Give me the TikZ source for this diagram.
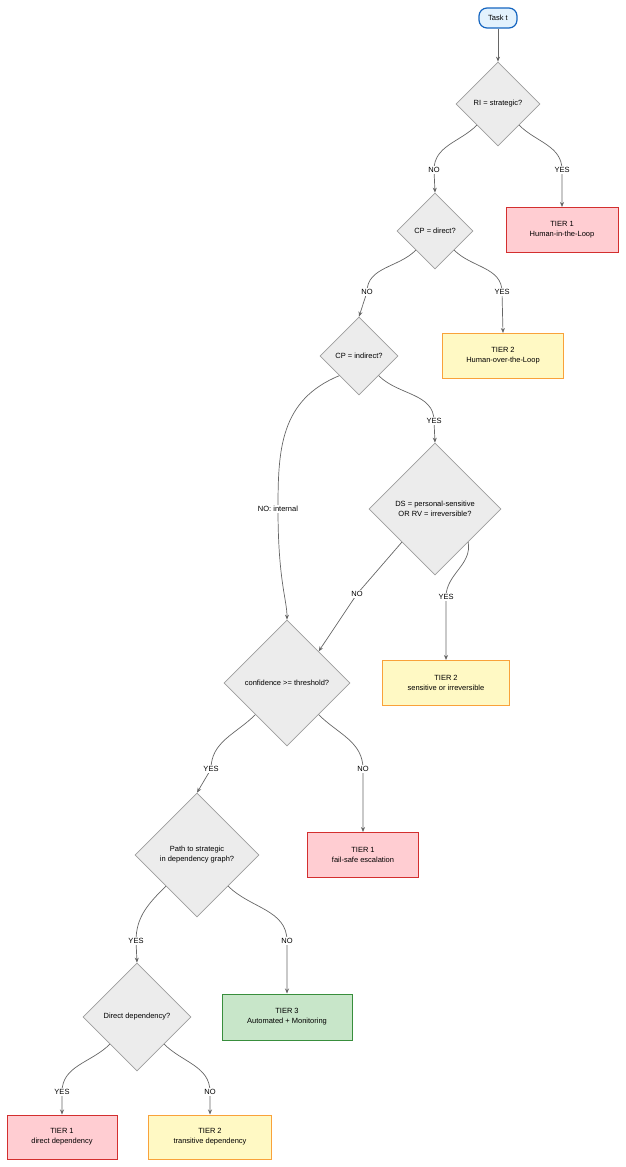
\documentclass[tikz,border=0pt]{standalone}
\usepackage{fontspec}
\setmainfont{Liberation Sans}
\usetikzlibrary{shapes.geometric,arrows.meta}
\definecolor{dg}{HTML}{ECECEC}\definecolor{dgs}{HTML}{9E9E9E}
\definecolor{rf}{HTML}{FFCDD2}\definecolor{rs}{HTML}{D32F2F}
\definecolor{yf}{HTML}{FFF9C4}\definecolor{ys}{HTML}{F9A23A}
\definecolor{gf}{HTML}{C8E6C9}\definecolor{gs}{HTML}{388E3C}
\definecolor{bf}{HTML}{E3F2FD}\definecolor{bs}{HTML}{1565C0}
\definecolor{ln}{HTML}{666666}
\begin{document}
\begin{tikzpicture}[x=1pt,y=-1pt,font=\fontsize{7.5}{10}\selectfont,
 dec/.style={diamond,draw=dgs,fill=dg,inner sep=0pt,align=center,line width=0.7pt},
 tbox/.style={rectangle,draw,line width=1pt,align=center,minimum height=45pt},
 red/.style={tbox,fill=rf,draw=rs},
 yel/.style={tbox,fill=yf,draw=ys},
 grn/.style={tbox,fill=gf,draw=gs},
 arr/.style={draw=ln,line width=0.7pt,-{Stealth[length=5pt,width=4pt]}},
 lab/.style={fill=white,inner sep=1pt}]
\useasboundingbox (0,0) rectangle (625,1167);
\node[rounded corners=8pt,draw=bs,fill=bf,line width=1.2pt,minimum width=38pt,minimum height=20pt] (task) at (498,18) {Task t};
\node[dec,minimum width=84pt,minimum height=84pt] (d1) at (498,104) {RI = strategic?};
\node[red,minimum width=112pt] (t1a) at (562,230) {TIER 1\\Human-in-the-Loop};
\node[dec,minimum width=76pt,minimum height=76pt] (d2) at (435,231) {CP = direct?};
\node[yel,minimum width=121pt] (t2a) at (503,356) {TIER 2\\Human-over-the-Loop};
\node[dec,minimum width=78pt,minimum height=78pt] (d3) at (359,356) {CP = indirect?};
\node[dec,minimum width=132pt,minimum height=132pt] (d4) at (435,509) {DS = personal-sensitive\\OR RV = irreversible?};
\node[yel,minimum width=127pt] (t2b) at (446,683) {TIER 2\\sensitive or irreversible};
\node[dec,minimum width=126pt,minimum height=126pt] (d5) at (287,683) {confidence >= threshold?};
\node[red,minimum width=111pt] (t1b) at (363,855) {TIER 1\\fail-safe escalation};
\node[dec,minimum width=124pt,minimum height=124pt] (d6) at (197,855) {Path to strategic\\in dependency graph?};
\node[grn,minimum width=130pt,minimum height=46pt] (t3) at (287,1017) {TIER 3\\Automated + Monitoring};
\node[dec,minimum width=108pt,minimum height=108pt] (d7) at (137,1017) {Direct dependency?};
\node[red,minimum width=110pt,minimum height=44pt] (t1c) at (62,1137) {TIER 1\\direct dependency};
\node[yel,minimum width=123pt,minimum height=44pt] (t2c) at (210,1137) {TIER 2\\transitive dependency};
\draw[arr] (task) -- (d1);
% labels
\node[lab] (l1) at (434,170) {NO};
\node[lab] (l2) at (562,170) {YES};
\node[lab] (l3) at (367,292) {NO};
\node[lab] (l4) at (502,292) {YES};
\node[lab] (l5) at (278,509) {NO: internal};
\node[lab] (l6) at (434,421) {YES};
\node[lab] (l7) at (357,594) {NO};
\node[lab] (l8) at (446,597) {YES};
\node[lab] (l9) at (211,769) {YES};
\node[lab] (l10) at (363,769) {NO};
\node[lab] (l11) at (136,941) {YES};
\node[lab] (l12) at (287,941) {NO};
\node[lab] (l13) at (62,1092) {YES};
\node[lab] (l14) at (210,1092) {NO};
\begin{scope}[on background layer/.style={}]
\end{scope}
% edges (drawn behind labels via redraw of labels afterwards)
\draw[arr] (d1.south west) to[out=-135,in=90] (l1.center) -- (d2.north);
\draw[arr] (d1.south east) to[out=-45,in=90] (l2.center) -- (t1a.north);
\draw[arr] (d2.south west) to[out=-135,in=90] (l3.center) -- (d3.north);
\draw[arr] (d2.south east) to[out=-45,in=90] (l4.center) -- (t2a.north);
\draw[arr] (d3.south west) .. controls (280,400) and (278,450) .. (l5.center) .. controls (278,580) and (287,600) .. (d5.north);
\draw[arr] (d3.south east) to[out=-45,in=90] (l6.center) -- (d4.north);
\draw[arr] (d4.south west) -- (l7.center) -- (d5.north east);
\draw[arr] (d4.south east) to[out=-80,in=90] (l8.center) -- (t2b.north);
\draw[arr] (d5.south west) to[out=-135,in=90] (l9.center) -- (d6.north);
\draw[arr] (d5.south east) to[out=-45,in=90] (l10.center) -- (t1b.north);
\draw[arr] (d6.south west) to[out=-135,in=90] (l11.center) -- (d7.north);
\draw[arr] (d6.south east) to[out=-45,in=90] (l12.center) -- (t3.north);
\draw[arr] (d7.south west) to[out=-135,in=90] (l13.center) -- (t1c.north);
\draw[arr] (d7.south east) to[out=-45,in=90] (l14.center) -- (t2c.north);
% redraw labels on top
\foreach \n/\t in {l1/NO,l2/YES,l3/NO,l4/YES,l5/NO: internal,l6/YES,l7/NO,l8/YES,l9/YES,l10/NO,l11/YES,l12/NO,l13/YES,l14/NO}
  \node[lab] at (\n) {\t};
\end{tikzpicture}
\end{document}
